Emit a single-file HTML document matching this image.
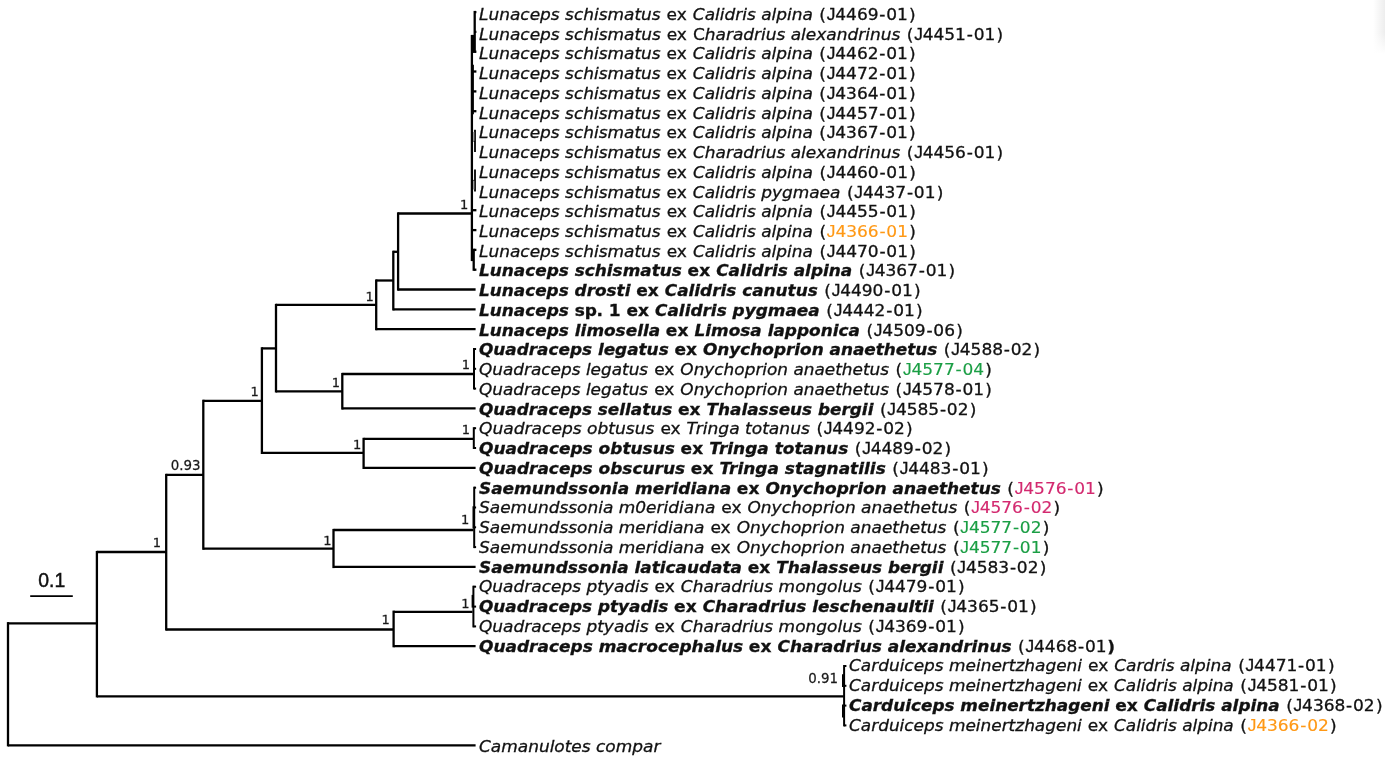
<!DOCTYPE html>
<html lang="en"><head><meta charset="utf-8"><title>Phylogenetic tree</title>
<style>
html,body{margin:0;padding:0;background:#fff;}
body{width:1385px;height:761px;overflow:hidden;position:relative;}
svg{display:block;position:absolute;left:0;top:0;}
.t{font-family:"DejaVu Sans","Liberation Sans",sans-serif;font-size:16.0px;fill:#111;stroke:#111;stroke-width:0.3px;white-space:pre;}
.i{font-style:italic;}
.b{font-weight:bold;}
.bi{font-weight:bold;font-style:italic;}
.j{font-family:"Liberation Sans",sans-serif;font-size:16.3px;}
.n{font-family:"DejaVu Sans","Liberation Sans",sans-serif;fill:#1a1a1a;stroke:#1a1a1a;stroke-width:0.25px;}
.s{font-family:"Liberation Sans",sans-serif;font-size:19.4px;fill:#111;stroke:#111;stroke-width:0.45px;}
.l{stroke:#000;stroke-width:2.3;fill:none;stroke-linecap:butt;}
</style></head><body>
<svg width="1385" height="761" viewBox="0 0 1385 761">
<defs><linearGradient id="sh" x1="0" x2="1" y1="0" y2="0"><stop offset="0" stop-color="#000" stop-opacity="0"/><stop offset="1" stop-color="#000" stop-opacity="0.07"/></linearGradient>
<linearGradient id="shv" x1="0" x2="0" y1="0" y2="1"><stop offset="0" stop-color="#fff" stop-opacity="0"/><stop offset="0.6" stop-color="#fff" stop-opacity="0"/><stop offset="1" stop-color="#fff" stop-opacity="1"/></linearGradient></defs>
<rect x="1373" y="0" width="12" height="54" fill="url(#sh)"/>
<rect x="1373" y="0" width="12" height="54" fill="url(#shv)"/>

<g class="l">
<path d="M8.0 622.1L8.0 746.4"/>
<path d="M8.0 745.3L475.6 745.3"/>
<path d="M8.0 623.3L96.9 623.3"/>
<path d="M96.9 550.9L96.9 697.4"/>
<path d="M96.9 696.3L843.8 696.3"/>
<path d="M96.9 552.0L166.2 552.0"/>
<path d="M166.2 473.8L166.2 630.6"/>
<path d="M166.2 629.5L393.6 629.5"/>
<path d="M393.6 610.6L393.6 647.3"/>
<path d="M393.6 611.8L472.5 611.8"/>
<path d="M393.6 646.2L475.6 646.2"/>
<path d="M166.2 474.9L203.3 474.9"/>
<path d="M203.3 399.7L203.3 549.8"/>
<path d="M203.3 548.6L333.5 548.6"/>
<path d="M333.5 528.9L333.5 568.1"/>
<path d="M333.5 530.0L473.5 530.0"/>
<path d="M333.5 566.9L475.6 566.9"/>
<path d="M203.3 400.8L261.9 400.8"/>
<path d="M261.9 347.2L261.9 454.0"/>
<path d="M261.9 452.9L363.6 452.9"/>
<path d="M363.6 437.8L363.6 469.0"/>
<path d="M363.6 438.9L473.5 438.9"/>
<path d="M363.6 467.8L475.6 467.8"/>
<path d="M261.9 348.4L276.0 348.4"/>
<path d="M276.0 303.8L276.0 392.5"/>
<path d="M276.0 391.4L342.3 391.4"/>
<path d="M342.3 372.9L342.3 409.6"/>
<path d="M342.3 374.0L473.5 374.0"/>
<path d="M342.3 408.4L475.6 408.4"/>
<path d="M276.0 304.9L376.2 304.9"/>
<path d="M376.2 279.4L376.2 330.3"/>
<path d="M376.2 329.1L475.6 329.1"/>
<path d="M376.2 280.5L393.3 280.5"/>
<path d="M393.3 250.7L393.3 310.5"/>
<path d="M393.3 309.3L475.6 309.3"/>
<path d="M393.3 251.8L398.1 251.8"/>
<path d="M398.1 212.3L398.1 290.7"/>
<path d="M398.1 289.5L475.6 289.5"/>
<path d="M398.1 213.5L471.5 213.5"/>
<path d="M473.4 585.7L473.4 627.4" stroke-width="2.0"/>
<path d="M473.4 586.7L476.1 586.7" stroke-width="2.0"/>
<path d="M473.4 606.6L476.1 606.6" stroke-width="2.0"/>
<path d="M473.4 626.4L476.1 626.4" stroke-width="2.0"/>
<path d="M472.4 594.9L472.4 607.6" stroke-width="1.6"/>
<path d="M474.2 486.7L474.2 548.1" stroke-width="2.0"/>
<path d="M474.2 487.7L476.1 487.7" stroke-width="2.0"/>
<path d="M474.2 507.5L476.1 507.5" stroke-width="2.0"/>
<path d="M474.2 527.3L476.1 527.3" stroke-width="2.0"/>
<path d="M474.2 547.1L476.1 547.1" stroke-width="2.0"/>
<path d="M473.3 506.3L473.3 528.4" stroke-width="1.6"/>
<path d="M473.8 427.2L473.8 449.0" stroke-width="2.0"/>
<path d="M473.8 428.2L476.1 428.2" stroke-width="2.0"/>
<path d="M473.8 448.0L476.1 448.0" stroke-width="2.0"/>
<path d="M474.0 348.0L474.0 389.6" stroke-width="2.0"/>
<path d="M474.0 349.0L476.1 349.0" stroke-width="2.0"/>
<path d="M474.0 368.8L476.1 368.8" stroke-width="2.0"/>
<path d="M474.0 388.6L476.1 388.6" stroke-width="2.0"/>
<path d="M844.1 665.0L844.1 726.4" stroke-width="2.0"/>
<path d="M844.1 666.0L846.4 666.0" stroke-width="2.0"/>
<path d="M844.1 685.8L846.4 685.8" stroke-width="2.0"/>
<path d="M844.1 705.6L846.4 705.6" stroke-width="2.0"/>
<path d="M844.1 725.4L846.4 725.4" stroke-width="2.0"/>
<path d="M842.9 674.2L842.9 687.0" stroke-width="1.8"/>
<path d="M842.9 704.5L842.9 717.4" stroke-width="1.8"/>
<path d="M474.7 10.9L474.7 52.9"/>
<path d="M474.7 12.1L476.4 12.1"/>
<path d="M474.7 31.9L476.4 31.9"/>
<path d="M474.7 51.7L476.4 51.7"/>
<path d="M473.4 34.9L473.4 52.9" stroke-width="1.6"/>
<path d="M471.9 34.9L471.9 261.1"/>
<path d="M473.0 64.8L473.0 114.2" stroke-width="1.8"/>
<path d="M471.9 71.5L476.4 71.5"/>
<path d="M471.9 91.4L476.4 91.4"/>
<path d="M471.9 111.2L476.4 111.2"/>
<path d="M471.9 210.2L476.4 210.2"/>
<path d="M471.9 230.1L476.4 230.1"/>
<path d="M475.0 129.8L475.0 152.0" stroke-width="1.8"/>
<path d="M471.9 140.9L475.0 140.9" stroke-width="1.2"/>
<path d="M475.0 169.5L475.0 191.6" stroke-width="1.8"/>
<path d="M471.9 180.5L475.0 180.5" stroke-width="1.2"/>
<path d="M473.7 248.7L473.7 270.8"/>
<path d="M473.7 249.9L476.4 249.9"/>
<path d="M473.7 269.7L476.4 269.7"/>
</g>
<path d="M473.7 132.0L473.7 140.9" stroke="#9a9a9a" stroke-width="1.3" fill="none"/>
<path d="M473.7 180.5L473.7 189.4" stroke="#9a9a9a" stroke-width="1.3" fill="none"/>
<text class="n" x="440.66" y="208.6" font-size="12.24" transform="scale(1.0625 1)" text-anchor="end">1</text>
<text class="n" x="351.91" y="300.9" font-size="12.24" transform="scale(1.0625 1)" text-anchor="end">1</text>
<text class="n" x="243.67" y="396.4" font-size="12.24" transform="scale(1.0625 1)" text-anchor="end">1</text>
<text class="n" x="320.00" y="387.2" font-size="12.24" transform="scale(1.0625 1)" text-anchor="end">1</text>
<text class="n" x="442.35" y="369.4" font-size="12.24" transform="scale(1.0625 1)" text-anchor="end">1</text>
<text class="n" x="340.14" y="448.6" font-size="12.24" transform="scale(1.0625 1)" text-anchor="end">1</text>
<text class="n" x="442.35" y="434.3" font-size="12.24" transform="scale(1.0625 1)" text-anchor="end">1</text>
<text class="n" x="205.74" y="470.4" font-size="13.74" transform="scale(0.9750 1)" text-anchor="end">0.93</text>
<text class="n" x="151.53" y="546.8" font-size="12.24" transform="scale(1.0625 1)" text-anchor="end">1</text>
<text class="n" x="312.09" y="544.7" font-size="12.24" transform="scale(1.0625 1)" text-anchor="end">1</text>
<text class="n" x="441.60" y="524.3" font-size="12.24" transform="scale(1.0625 1)" text-anchor="end">1</text>
<text class="n" x="366.87" y="624.0" font-size="12.24" transform="scale(1.0625 1)" text-anchor="end">1</text>
<text class="n" x="441.88" y="608.0" font-size="12.24" transform="scale(1.0625 1)" text-anchor="end">1</text>
<text class="n" x="859.49" y="683.0" font-size="13.74" transform="scale(0.9750 1)" text-anchor="end">0.91</text>
<path d="M30.2 596.1H72.8" stroke="#000" stroke-width="1.9" fill="none"/>
<text class="s" x="38.3" y="587">0.1</text>
<text class="t" id="t0" y="20.0" transform="scale(1.0625 1)" xml:space="preserve"><tspan class="i" x="450.82" textLength="170.97" lengthAdjust="spacingAndGlyphs">Lunaceps schismatus</tspan><tspan x="622.07 627.41 636.96 646.71"> ex </tspan><tspan class="i" x="652.07" textLength="112.97" lengthAdjust="spacingAndGlyphs">Calidris alpina</tspan><tspan x="766.25 771.18"> (</tspan><tspan class="j" x="778.11">J</tspan><tspan x="786.15 796.33 806.50 816.68 827.60 834.12 844.30">4469-01</tspan><tspan x="855.64">)</tspan></text>
<text class="t" id="t1" y="40.0" transform="scale(1.0625 1)" xml:space="preserve"><tspan class="i" x="450.82" textLength="171.05" lengthAdjust="spacingAndGlyphs">Lunaceps schismatus</tspan><tspan x="622.15 627.49 637.04 646.79 652.15"> ex C</tspan><tspan class="i" x="663.32" textLength="183.98" lengthAdjust="spacingAndGlyphs">haradrius alexandrinus</tspan><tspan x="848.51 853.44"> (</tspan><tspan class="j" x="860.37">J</tspan><tspan x="868.41 878.59 888.76 898.94 909.86 916.38 926.55">4451-01</tspan><tspan x="937.90">)</tspan></text>
<text class="t" id="t2" y="59.0" transform="scale(1.0625 1)" xml:space="preserve"><tspan class="i" x="450.82" textLength="170.97" lengthAdjust="spacingAndGlyphs">Lunaceps schismatus</tspan><tspan x="622.07 627.41 636.96 646.71"> ex </tspan><tspan class="i" x="652.07" textLength="112.97" lengthAdjust="spacingAndGlyphs">Calidris alpina</tspan><tspan x="766.25 771.18"> (</tspan><tspan class="j" x="778.11">J</tspan><tspan x="786.15 796.33 806.50 816.68 827.60 834.12 844.30">4462-01</tspan><tspan x="855.64">)</tspan></text>
<text class="t" id="t3" y="79.0" transform="scale(1.0625 1)" xml:space="preserve"><tspan class="i" x="450.82" textLength="170.97" lengthAdjust="spacingAndGlyphs">Lunaceps schismatus</tspan><tspan x="622.07 627.41 636.96 646.71"> ex </tspan><tspan class="i" x="652.07" textLength="112.97" lengthAdjust="spacingAndGlyphs">Calidris alpina</tspan><tspan x="766.25 771.18"> (</tspan><tspan class="j" x="778.11">J</tspan><tspan x="786.15 796.33 806.50 816.68 827.60 834.12 844.30">4472-01</tspan><tspan x="855.64">)</tspan></text>
<text class="t" id="t4" y="99.0" transform="scale(1.0625 1)" xml:space="preserve"><tspan class="i" x="450.82" textLength="170.97" lengthAdjust="spacingAndGlyphs">Lunaceps schismatus</tspan><tspan x="622.07 627.41 636.96 646.71"> ex </tspan><tspan class="i" x="652.07" textLength="112.97" lengthAdjust="spacingAndGlyphs">Calidris alpina</tspan><tspan x="766.25 771.18"> (</tspan><tspan class="j" x="778.11">J</tspan><tspan x="786.15 796.33 806.50 816.68 827.60 834.12 844.30">4364-01</tspan><tspan x="855.64">)</tspan></text>
<text class="t" id="t5" y="119.0" transform="scale(1.0625 1)" xml:space="preserve"><tspan class="i" x="450.82" textLength="170.97" lengthAdjust="spacingAndGlyphs">Lunaceps schismatus</tspan><tspan x="622.07 627.41 636.96 646.71"> ex </tspan><tspan class="i" x="652.07" textLength="112.97" lengthAdjust="spacingAndGlyphs">Calidris alpina</tspan><tspan x="766.25 771.18"> (</tspan><tspan class="j" x="778.11">J</tspan><tspan x="786.15 796.33 806.50 816.68 827.60 834.12 844.30">4457-01</tspan><tspan x="855.64">)</tspan></text>
<text class="t" id="t6" y="138.0" transform="scale(1.0625 1)" xml:space="preserve"><tspan class="i" x="450.82" textLength="170.97" lengthAdjust="spacingAndGlyphs">Lunaceps schismatus</tspan><tspan x="622.07 627.41 636.96 646.71"> ex </tspan><tspan class="i" x="652.07" textLength="112.97" lengthAdjust="spacingAndGlyphs">Calidris alpina</tspan><tspan x="766.25 771.18"> (</tspan><tspan class="j" x="778.11">J</tspan><tspan x="786.15 796.33 806.50 816.68 827.60 834.12 844.30">4367-01</tspan><tspan x="855.64">)</tspan></text>
<text class="t" id="t7" y="158.0" transform="scale(1.0625 1)" xml:space="preserve"><tspan class="i" x="450.82" textLength="171.06" lengthAdjust="spacingAndGlyphs">Lunaceps schismatus</tspan><tspan x="622.16 627.50 637.05 646.80"> ex </tspan><tspan class="i" x="652.16" textLength="195.14" lengthAdjust="spacingAndGlyphs">Charadrius alexandrinus</tspan><tspan x="848.51 853.44"> (</tspan><tspan class="j" x="860.37">J</tspan><tspan x="868.41 878.59 888.76 898.94 909.86 916.38 926.55">4456-01</tspan><tspan x="937.90">)</tspan></text>
<text class="t" id="t8" y="178.0" transform="scale(1.0625 1)" xml:space="preserve"><tspan class="i" x="450.82" textLength="171.03" lengthAdjust="spacingAndGlyphs">Lunaceps schismatus</tspan><tspan x="622.12 627.47 637.02 646.76"> ex </tspan><tspan class="i" x="652.13" textLength="113.01" lengthAdjust="spacingAndGlyphs">Calidris alpina</tspan><tspan x="766.34 771.27"> (</tspan><tspan class="j" x="778.21">J</tspan><tspan x="786.25 796.42 806.60 816.77 827.70 834.21 844.39">4460-01</tspan><tspan x="855.74">)</tspan></text>
<text class="t" id="t9" y="198.0" transform="scale(1.0625 1)" xml:space="preserve"><tspan class="i" x="450.82" textLength="170.98" lengthAdjust="spacingAndGlyphs">Lunaceps schismatus</tspan><tspan x="622.07 627.42 636.97 646.71"> ex </tspan><tspan class="i" x="652.08" textLength="138.94" lengthAdjust="spacingAndGlyphs">Calidris pygmaea</tspan><tspan x="792.23 797.16"> (</tspan><tspan class="j" x="804.09">J</tspan><tspan x="812.13 822.30 832.48 842.66 853.58 860.10 870.27">4437-01</tspan><tspan x="881.62">)</tspan></text>
<text class="t" id="t10" y="217.0" transform="scale(1.0625 1)" xml:space="preserve"><tspan class="i" x="450.82" textLength="171.03" lengthAdjust="spacingAndGlyphs">Lunaceps schismatus</tspan><tspan x="622.12 627.47 637.02 646.76"> ex </tspan><tspan class="i" x="652.13" textLength="113.01" lengthAdjust="spacingAndGlyphs">Calidris alpnia</tspan><tspan x="766.34 771.27"> (</tspan><tspan class="j" x="778.21">J</tspan><tspan x="786.25 796.42 806.60 816.77 827.70 834.21 844.39">4455-01</tspan><tspan x="855.74">)</tspan></text>
<text class="t" id="t11" y="237.0" transform="scale(1.0625 1)" xml:space="preserve"><tspan class="i" x="450.82" textLength="171.03" lengthAdjust="spacingAndGlyphs">Lunaceps schismatus</tspan><tspan x="622.12 627.47 637.02 646.76"> ex </tspan><tspan class="i" x="652.13" textLength="113.01" lengthAdjust="spacingAndGlyphs">Calidris alpina</tspan><tspan x="766.34 771.27"> (</tspan><tspan class="j" fill="#ff9814" stroke="#ff9814" stroke-width="0.15" x="778.21">J</tspan><tspan fill="#ff9814" stroke="#ff9814" stroke-width="0.15" x="786.25 796.42 806.60 816.77 827.70 834.21 844.39">4366-01</tspan><tspan x="855.74">)</tspan></text>
<text class="t" id="t12" y="257.0" transform="scale(1.0625 1)" xml:space="preserve"><tspan class="i" x="450.82" textLength="171.03" lengthAdjust="spacingAndGlyphs">Lunaceps schismatus</tspan><tspan x="622.12 627.47 637.02 646.76"> ex </tspan><tspan class="i" x="652.13" textLength="113.01" lengthAdjust="spacingAndGlyphs">Calidris alpina</tspan><tspan x="766.34 771.27"> (</tspan><tspan class="j" x="778.21">J</tspan><tspan x="786.25 796.42 806.60 816.77 827.70 834.21 844.39">4470-01</tspan><tspan x="855.74">)</tspan></text>
<text class="t" id="t13" y="276.0" transform="scale(1.0625 1)" xml:space="preserve"><tspan class="bi" x="450.82" textLength="190.95" lengthAdjust="spacingAndGlyphs">Lunaceps schismatus</tspan><tspan class="b" x="641.72 647.13 658.06 668.52"> ex </tspan><tspan class="bi" x="674.05" textLength="128.08" lengthAdjust="spacingAndGlyphs">Calidris alpina</tspan><tspan x="803.33 808.26"> (</tspan><tspan class="j" x="815.20">J</tspan><tspan x="823.23 833.41 843.59 853.76 864.68 871.20 881.38">4367-01</tspan><tspan x="892.73">)</tspan></text>
<text class="t" id="t14" y="296.0" transform="scale(1.0625 1)" xml:space="preserve"><tspan class="bi" x="450.82" textLength="142.58" lengthAdjust="spacingAndGlyphs">Lunaceps drosti</tspan><tspan class="b" x="593.35 598.76 609.69 620.15"> ex </tspan><tspan class="bi" x="625.68" textLength="143.98" lengthAdjust="spacingAndGlyphs">Calidris canutus</tspan><tspan x="770.86 775.79"> (</tspan><tspan class="j" x="782.72">J</tspan><tspan x="790.76 800.94 811.12 821.29 832.21 838.73 848.91">4490-01</tspan><tspan x="860.25">)</tspan></text>
<text class="t" id="t15" y="316.0" transform="scale(1.0625 1)" xml:space="preserve"><tspan class="bi" x="450.82" textLength="84.63" lengthAdjust="spacingAndGlyphs">Lunaceps</tspan><tspan class="b" x="535.40 540.90 550.28 561.45 567.32 572.96 584.17 589.58 600.51 610.97"> sp. 1 ex </tspan><tspan class="bi" x="616.49" textLength="155.04" lengthAdjust="spacingAndGlyphs">Calidris pygmaea</tspan><tspan x="772.74 777.67"> (</tspan><tspan class="j" x="784.61">J</tspan><tspan x="792.65 802.82 813.00 823.17 834.10 840.61 850.79">4442-01</tspan><tspan x="862.14">)</tspan></text>
<text class="t" id="t16" y="336.0" transform="scale(1.0625 1)" xml:space="preserve"><tspan class="bi" x="450.82" textLength="170.53" lengthAdjust="spacingAndGlyphs">Lunaceps limosella</tspan><tspan class="b" x="621.30 626.71 637.63 648.10"> ex </tspan><tspan class="bi" x="653.62" textLength="155.75" lengthAdjust="spacingAndGlyphs">Limosa lapponica</tspan><tspan x="810.58 815.51"> (</tspan><tspan class="j" x="822.44">J</tspan><tspan x="830.48 840.66 850.83 861.01 871.93 878.45 888.62">4509-06</tspan><tspan x="899.97">)</tspan></text>
<text class="t" id="t17" y="355.0" transform="scale(1.0625 1)" xml:space="preserve"><tspan class="bi" x="450.82" textLength="178.53" lengthAdjust="spacingAndGlyphs">Quadraceps legatus</tspan><tspan class="b" x="629.30 634.71 645.64 656.10"> ex </tspan><tspan class="bi" x="661.63" textLength="220.59" lengthAdjust="spacingAndGlyphs">Onychoprion anaethetus</tspan><tspan x="883.43 888.36"> (</tspan><tspan class="j" x="895.29">J</tspan><tspan x="903.33 913.50 923.68 933.86 944.78 951.30 961.47">4588-02</tspan><tspan x="972.82">)</tspan></text>
<text class="t" id="t18" y="375.0" transform="scale(1.0625 1)" xml:space="preserve"><tspan class="i" x="450.82" textLength="159.24" lengthAdjust="spacingAndGlyphs">Quadraceps legatus</tspan><tspan x="610.33 615.67 625.22 634.97"> ex </tspan><tspan class="i" x="640.33" textLength="196.43" lengthAdjust="spacingAndGlyphs">Onychoprion anaethetus</tspan><tspan x="837.97 842.90"> (</tspan><tspan class="j" fill="#1a9e44" stroke="#1a9e44" stroke-width="0.15" x="849.83">J</tspan><tspan fill="#1a9e44" stroke="#1a9e44" stroke-width="0.15" x="857.87 868.05 878.22 888.40 899.32 905.84 916.01">4577-04</tspan><tspan x="927.36">)</tspan></text>
<text class="t" id="t19" y="395.0" transform="scale(1.0625 1)" xml:space="preserve"><tspan class="i" x="450.82" textLength="159.24" lengthAdjust="spacingAndGlyphs">Quadraceps legatus</tspan><tspan x="610.33 615.67 625.22 634.97"> ex </tspan><tspan class="i" x="640.33" textLength="196.43" lengthAdjust="spacingAndGlyphs">Onychoprion anaethetus</tspan><tspan x="837.97 842.90"> (</tspan><tspan class="j" x="849.83">J</tspan><tspan x="857.87 868.05 878.22 888.40 899.32 905.84 916.01">4578-01</tspan><tspan x="927.36">)</tspan></text>
<text class="t" id="t20" y="415.0" transform="scale(1.0625 1)" xml:space="preserve"><tspan class="bi" x="450.82" textLength="181.94" lengthAdjust="spacingAndGlyphs">Quadraceps sellatus</tspan><tspan class="b" x="632.72 638.12 649.05 659.52"> ex </tspan><tspan class="bi" x="665.04" textLength="157.03" lengthAdjust="spacingAndGlyphs">Thalasseus bergii</tspan><tspan x="823.29 828.21"> (</tspan><tspan class="j" x="835.15">J</tspan><tspan x="843.19 853.36 863.54 873.71 884.64 891.15 901.33">4585-02</tspan><tspan x="912.68">)</tspan></text>
<text class="t" id="t21" y="434.0" transform="scale(1.0625 1)" xml:space="preserve"><tspan class="i" x="450.82" textLength="165.15" lengthAdjust="spacingAndGlyphs">Quadraceps obtusus</tspan><tspan x="616.24 621.58 631.13 640.88"> ex </tspan><tspan class="i" x="646.24" textLength="115.98" lengthAdjust="spacingAndGlyphs">Tringa totanus</tspan><tspan x="763.43 768.36"> (</tspan><tspan class="j" x="775.29">J</tspan><tspan x="783.33 793.50 803.68 813.86 824.78 831.30 841.47">4492-02</tspan><tspan x="852.82">)</tspan></text>
<text class="t" id="t22" y="454.0" transform="scale(1.0625 1)" xml:space="preserve"><tspan class="bi" x="450.82" textLength="184.38" lengthAdjust="spacingAndGlyphs">Quadraceps obtusus</tspan><tspan class="b" x="635.15 640.55 651.48 661.95"> ex </tspan><tspan class="bi" x="667.47" textLength="130.89" lengthAdjust="spacingAndGlyphs">Tringa totanus</tspan><tspan x="799.57 804.50"> (</tspan><tspan class="j" x="811.43">J</tspan><tspan x="819.47 829.65 839.82 850.00 860.92 867.44 877.61">4489-02</tspan><tspan x="888.96">)</tspan></text>
<text class="t" id="t23" y="474.0" transform="scale(1.0625 1)" xml:space="preserve"><tspan class="bi" x="450.82" textLength="193.97" lengthAdjust="spacingAndGlyphs">Quadraceps obscurus</tspan><tspan class="b" x="644.74 650.15 661.08 671.54"> ex </tspan><tspan class="bi" x="677.07" textLength="156.58" lengthAdjust="spacingAndGlyphs">Tringa stagnatilis</tspan><tspan x="834.86 839.79"> (</tspan><tspan class="j" x="846.72">J</tspan><tspan x="854.76 864.94 875.12 885.29 896.21 902.73 912.91">4483-01</tspan><tspan x="924.25">)</tspan></text>
<text class="t" id="t24" y="494.0" transform="scale(1.0625 1)" xml:space="preserve"><tspan class="bi" x="450.82" textLength="237.33" lengthAdjust="spacingAndGlyphs">Saemundssonia meridiana</tspan><tspan class="b" x="688.10 693.51 704.44 714.90"> ex </tspan><tspan class="bi" x="720.42" textLength="221.56" lengthAdjust="spacingAndGlyphs">Onychoprion anaethetus</tspan><tspan x="943.19 948.12"> (</tspan><tspan class="j" fill="#d3296f" stroke="#d3296f" stroke-width="0.15" x="955.05">J</tspan><tspan fill="#d3296f" stroke="#d3296f" stroke-width="0.15" x="963.09 973.27 983.44 993.62 1004.54 1011.06 1021.24">4576-01</tspan><tspan x="1032.58">)</tspan></text>
<text class="t" id="t25" y="513.0" transform="scale(1.0625 1)" xml:space="preserve"><tspan class="i" x="450.82" textLength="222.41" lengthAdjust="spacingAndGlyphs">Saemundssonia m0eridiana</tspan><tspan x="673.51 678.85 688.40 698.15"> ex </tspan><tspan class="i" x="703.51" textLength="197.44" lengthAdjust="spacingAndGlyphs">Onychoprion anaethetus</tspan><tspan x="902.16 907.08"> (</tspan><tspan class="j" fill="#d3296f" stroke="#d3296f" stroke-width="0.15" x="914.02">J</tspan><tspan fill="#d3296f" stroke="#d3296f" stroke-width="0.15" x="922.06 932.23 942.41 952.59 963.51 970.03 980.20">4576-02</tspan><tspan x="991.55">)</tspan></text>
<text class="t" id="t26" y="533.0" transform="scale(1.0625 1)" xml:space="preserve"><tspan class="i" x="450.82" textLength="212.25" lengthAdjust="spacingAndGlyphs">Saemundssonia meridiana</tspan><tspan x="663.35 668.69 678.24 687.99"> ex </tspan><tspan class="i" x="693.35" textLength="197.43" lengthAdjust="spacingAndGlyphs">Onychoprion anaethetus</tspan><tspan x="891.99 896.92"> (</tspan><tspan class="j" fill="#1a9e44" stroke="#1a9e44" stroke-width="0.15" x="903.85">J</tspan><tspan fill="#1a9e44" stroke="#1a9e44" stroke-width="0.15" x="911.89 922.07 932.24 942.42 953.34 959.86 970.04">4577-02</tspan><tspan x="981.38">)</tspan></text>
<text class="t" id="t27" y="553.0" transform="scale(1.0625 1)" xml:space="preserve"><tspan class="i" x="450.82" textLength="212.25" lengthAdjust="spacingAndGlyphs">Saemundssonia meridiana</tspan><tspan x="663.35 668.69 678.24 687.99"> ex </tspan><tspan class="i" x="693.35" textLength="197.43" lengthAdjust="spacingAndGlyphs">Onychoprion anaethetus</tspan><tspan x="891.99 896.92"> (</tspan><tspan class="j" fill="#1a9e44" stroke="#1a9e44" stroke-width="0.15" x="903.85">J</tspan><tspan fill="#1a9e44" stroke="#1a9e44" stroke-width="0.15" x="911.89 922.07 932.24 942.42 953.34 959.86 970.04">4577-01</tspan><tspan x="981.38">)</tspan></text>
<text class="t" id="t28" y="573.0" transform="scale(1.0625 1)" xml:space="preserve"><tspan class="bi" x="450.82" textLength="247.51" lengthAdjust="spacingAndGlyphs">Saemundssonia laticaudata</tspan><tspan class="b" x="698.28 703.69 714.62 725.08"> ex </tspan><tspan class="bi" x="730.60" textLength="157.35" lengthAdjust="spacingAndGlyphs">Thalasseus bergii</tspan><tspan x="889.17 894.10"> (</tspan><tspan class="j" x="901.03">J</tspan><tspan x="909.07 919.25 929.42 939.60 950.52 957.04 967.21">4583-02</tspan><tspan x="978.56">)</tspan></text>
<text class="t" id="t29" y="592.0" transform="scale(1.0625 1)" xml:space="preserve"><tspan class="i" x="450.82" textLength="159.65" lengthAdjust="spacingAndGlyphs">Quadraceps ptyadis</tspan><tspan x="610.74 616.08 625.64 635.38"> ex </tspan><tspan class="i" x="640.75" textLength="170.32" lengthAdjust="spacingAndGlyphs">Charadrius mongolus</tspan><tspan x="812.27 817.20"> (</tspan><tspan class="j" x="824.14">J</tspan><tspan x="832.17 842.35 852.53 862.70 873.63 880.14 890.32">4479-01</tspan><tspan x="901.67">)</tspan></text>
<text class="t" id="t30" y="612.0" transform="scale(1.0625 1)" xml:space="preserve"><tspan class="bi" x="450.82" textLength="178.26" lengthAdjust="spacingAndGlyphs">Quadraceps ptyadis</tspan><tspan class="b" x="629.04 634.44 645.37 655.84"> ex </tspan><tspan class="bi" x="661.36" textLength="217.56" lengthAdjust="spacingAndGlyphs">Charadrius leschenaultii</tspan><tspan x="880.13 885.06"> (</tspan><tspan class="j" x="892.00">J</tspan><tspan x="900.03 910.21 920.39 930.56 941.48 948.00 958.18">4365-01</tspan><tspan x="969.53">)</tspan></text>
<text class="t" id="t31" y="632.0" transform="scale(1.0625 1)" xml:space="preserve"><tspan class="i" x="450.82" textLength="159.65" lengthAdjust="spacingAndGlyphs">Quadraceps ptyadis</tspan><tspan x="610.74 616.08 625.64 635.38"> ex </tspan><tspan class="i" x="640.75" textLength="170.32" lengthAdjust="spacingAndGlyphs">Charadrius mongolus</tspan><tspan x="812.27 817.20"> (</tspan><tspan class="j" x="824.14">J</tspan><tspan x="832.17 842.35 852.53 862.70 873.63 880.14 890.32">4369-01</tspan><tspan x="901.67">)</tspan></text>
<text class="t" id="t32" y="652.0" transform="scale(1.0625 1)" xml:space="preserve"><tspan class="bi" x="450.82" textLength="248.64" lengthAdjust="spacingAndGlyphs">Quadraceps macrocephalus</tspan><tspan class="b" x="699.41 704.82 715.75 726.21"> ex </tspan><tspan class="bi" x="731.74" textLength="220.36" lengthAdjust="spacingAndGlyphs">Charadrius alexandrinus</tspan><tspan x="953.31 958.24"> (</tspan><tspan class="j" x="965.17">J</tspan><tspan x="973.21 983.38 993.56 1003.74 1014.66 1021.18 1031.35">4468-01</tspan><tspan class="b" x="1042.22">)</tspan></text>
<text class="t" id="t33" y="671.0" transform="scale(1.0625 1)" xml:space="preserve"><tspan class="i" x="799.06" textLength="219.33" lengthAdjust="spacingAndGlyphs">Carduiceps meinertzhageni</tspan><tspan x="1018.66 1024.00 1033.56 1043.30"> ex </tspan><tspan class="i" x="1048.67" textLength="110.54" lengthAdjust="spacingAndGlyphs">Cardris alpina</tspan><tspan x="1160.42 1165.34"> (</tspan><tspan class="j" x="1172.28">J</tspan><tspan x="1180.32 1190.49 1200.67 1210.84 1221.77 1228.28 1238.46">4471-01</tspan><tspan x="1249.81">)</tspan></text>
<text class="t" id="t34" y="691.0" transform="scale(1.0625 1)" xml:space="preserve"><tspan class="i" x="799.06" textLength="219.12" lengthAdjust="spacingAndGlyphs">Carduiceps meinertzhageni</tspan><tspan x="1018.45 1023.79 1033.34 1043.09"> ex </tspan><tspan class="i" x="1048.45" textLength="112.73" lengthAdjust="spacingAndGlyphs">Calidris alpina</tspan><tspan x="1162.39 1167.32"> (</tspan><tspan class="j" x="1174.25">J</tspan><tspan x="1182.29 1192.47 1202.64 1212.82 1223.74 1230.26 1240.44">4581-01</tspan><tspan x="1251.78">)</tspan></text>
<text class="t" id="t35" y="711.0" transform="scale(1.0625 1)" xml:space="preserve"><tspan class="bi" x="799.06" textLength="245.20" lengthAdjust="spacingAndGlyphs">Carduiceps meinertzhageni</tspan><tspan class="b" x="1044.21 1049.61 1060.54 1071.01"> ex </tspan><tspan class="bi" x="1076.53" textLength="127.85" lengthAdjust="spacingAndGlyphs">Calidris alpina</tspan><tspan x="1205.59 1210.52"> (</tspan><tspan class="j" x="1217.45">J</tspan><tspan x="1225.49 1235.67 1245.84 1256.02 1266.94 1273.46 1283.64">4368-02</tspan><tspan x="1294.98">)</tspan></text>
<text class="t" id="t36" y="731.0" transform="scale(1.0625 1)" xml:space="preserve"><tspan class="i" x="799.06" textLength="219.12" lengthAdjust="spacingAndGlyphs">Carduiceps meinertzhageni</tspan><tspan x="1018.45 1023.79 1033.34 1043.09"> ex </tspan><tspan class="i" x="1048.45" textLength="112.73" lengthAdjust="spacingAndGlyphs">Calidris alpina</tspan><tspan x="1162.39 1167.32"> (</tspan><tspan class="j" fill="#ff9814" stroke="#ff9814" stroke-width="0.15" x="1174.25">J</tspan><tspan fill="#ff9814" stroke="#ff9814" stroke-width="0.15" x="1182.29 1192.47 1202.64 1212.82 1223.74 1230.26 1240.44">4366-02</tspan><tspan x="1251.78">)</tspan></text>
<text class="t" id="t37" y="752.0" transform="scale(1.0625 1)" xml:space="preserve"><tspan class="i" x="450.82" textLength="170.73" lengthAdjust="spacingAndGlyphs">Camanulotes compar</tspan></text>
</svg></body></html>
